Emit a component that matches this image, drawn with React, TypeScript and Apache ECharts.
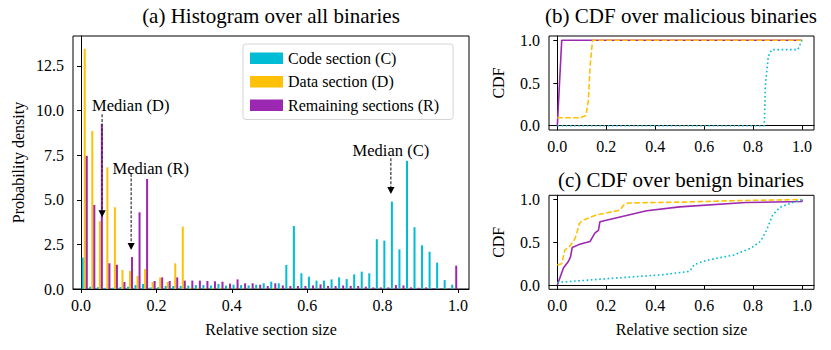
import React, { useEffect, useRef } from 'react';
import * as echarts from 'echarts';

// ---------- data ----------
const BIN_WIDTH = 0.02;
const seriesNames = ['Code section (C)', 'Data section (D)', 'Remaining sections (R)'];
const colors = ['#00BCD4', '#FFC107', '#9C27B0'];

// probability density per bin (50 bins of width 0.02)
const codeDensity = [
  1.76, 0.13, 0.1, 0.07, 0.07, 0.11, 0.13, 0.22, 0.28, 0.09,
  0.1, 0.17, 0.17, 0.17, 0.19, 0.22, 0.22, 0.19, 0.28, 0.19,
  0.24, 0.22, 0.2, 0.24, 0.32, 0.41, 0.32, 1.35, 3.53, 0.88,
  0.69, 0.47, 0.47, 0.54, 0.65, 0.56, 0.82, 0.97, 0.88, 2.79,
  2.71, 4.9, 2.22, 7.18, 3.46, 2.45, 2.09, 1.48, 0.5, 0.24,
];
const dataDensity = [
  13.46, 8.86, 3.8, 6.82, 4.58, 1.07, 1.01, 0.73, 1.12, 0.39,
  0.65, 0.39, 1.44, 3.5, 0.07, 0.06, 0.05, 0.05, 0.05, 0.04,
  0.04, 0.03, 0.03, 0.03, 0.03, 0.05, 0.02, 0.02, 0.02, 0.01,
  0.01, 0.01, 0.01, 0.01, 0.01, 0.01, 0.01, 0.01, 0.01, 0.01,
  0.01, 0.01, 0.01, 0.01, 0.01, 0.01, 0.01, 0.01, 0.01, 0.01,
];
const restDensity = [
  7.46, 4.71, 9.25, 1.44, 1.36, 0.39, 1.79, 4.3, 6.17, 0.45,
  0.65, 0.45, 0.65, 0.47, 0.47, 0.47, 0.45, 0.43, 0.41, 0.3,
  0.54, 0.32, 0.32, 0.24, 0.17, 0.32, 0.2, 0.17, 0.17, 0.17,
  0.2, 0.26, 0.17, 0.17, 0.2, 0.17, 0.17, 0.13, 0.09, 0.09,
  0.09, 0.22, 0.2, 0.09, 0.07, 0.09, 0.05, 0.03, 0.02, 1.31,
];
const binStarts = codeDensity.map((_, i) => +(i * BIN_WIDTH).toFixed(2));

// median annotations: [arrowX, tailY, tipY, textX, textY]
const medianLabels = ['Median (D)', 'Median (R)', 'Median (C)'];
const medianArrows = [
  [0.056, 9.79, 4.02, 0.132, 10.26],
  [0.133, 6.45, 2.19, 0.185, 6.77],
  [0.822, 7.33, 5.32, 0.822, 7.75],
];

const histTicksX = [0, 0.2, 0.4, 0.6, 0.8, 1.0];
const histTicksY = [0, 2.5, 5, 7.5, 10, 12.5];
const cdfTicksY = [0, 0.5, 1.0];

// CDF over malicious binaries: [x, cdf]
const malCode = [[0, 0], [0.846, 0], [0.85, 0.46], [0.862, 0.81], [0.876, 0.89], [0.983, 0.89], [1.0, 1.0]];
const malData = [[0, 0.093], [0.093, 0.093], [0.117, 0.12], [0.127, 0.3], [0.134, 0.7], [0.144, 1.0], [1.0, 1.0]];
const malRest = [[0, 0], [0.018, 1.0], [1.0, 1.0]];

// CDF over benign binaries
const benCode = [
  [0, 0.03], [0.23, 0.08], [0.43, 0.12], [0.54, 0.16], [0.56, 0.24], [0.61, 0.29],
  [0.72, 0.35], [0.79, 0.43], [0.83, 0.51], [0.855, 0.64], [0.88, 0.82], [0.91, 0.91],
  [0.965, 0.97], [1.0, 1.0],
];
const benData = [
  [0, 0.236], [0.018, 0.25], [0.031, 0.41], [0.052, 0.457], [0.07, 0.53], [0.079, 0.6],
  [0.09, 0.72], [0.106, 0.76], [0.16, 0.82], [0.256, 0.876], [0.27, 0.934], [0.29, 0.96],
  [0.5, 0.97], [0.77, 0.99], [1.0, 1.0],
];
const benRest = [
  [0, 0], [0.025, 0.2], [0.045, 0.275], [0.054, 0.33], [0.061, 0.44], [0.086, 0.47],
  [0.106, 0.49], [0.134, 0.51], [0.154, 0.61], [0.168, 0.64], [0.174, 0.74], [0.365, 0.87],
  [0.5, 0.915], [0.77, 0.965], [1.0, 0.977], [1.0, 1.0],
];

// ---------- styling ----------
const FONT = 'Liberation Serif';
const TICK_FS = 16;
const TITLE_FS = 21;

const fmt1 = (v: number) => v.toFixed(1);
const txtStyle = { color: '#000', fontSize: TICK_FS, fontFamily: FONT };

function histSeries(name: string, values: number[], color: string, slot: number) {
  return {
    type: 'custom',
    name,
    xAxisIndex: 0,
    yAxisIndex: 0,
    itemStyle: { color },
    encode: { x: 0, y: 1 },
    data: values.map((v, i) => [binStarts[i], v]),
    renderItem: (_p: any, api: any) => {
      const start = api.value(0) as number;
      const v = api.value(1) as number;
      const barW = (BIN_WIDTH * 0.8) / 3;
      const x0 = start + BIN_WIDTH * 0.1 + slot * barW;
      const p0 = api.coord([x0, 0]);
      const p1 = api.coord([x0 + barW, v]);
      return {
        type: 'rect',
        shape: { x: p0[0], y: p1[1], width: p1[0] - p0[0], height: p0[1] - p1[1] },
        style: { fill: color },
      };
    },
  };
}

function cdfSeries(name: string, data: number[][], color: string, dash: any, gi: number) {
  return {
    type: 'line',
    name,
    xAxisIndex: gi,
    yAxisIndex: gi,
    data,
    symbol: 'none',
    lineStyle: { color, width: 1.6, type: dash },
    z: 3,
  };
}

function cdfXAxis(gi: number, showName: boolean) {
  return {
    type: 'value',
    gridIndex: gi,
    min: -0.034,
    max: 1.049,
    axisLine: { show: true, lineStyle: { color: '#000', width: 1 } },
    axisTick: { show: true, length: 4, customValues: histTicksX, lineStyle: { color: '#000' } },
    axisLabel: { customValues: histTicksX, formatter: fmt1, ...txtStyle, margin: 8 },
    splitLine: { show: false },
    name: showName ? 'Relative section size' : '',
    nameLocation: 'middle',
    nameGap: 32,
    nameTextStyle: txtStyle,
  };
}

function cdfYAxis(gi: number) {
  return {
    type: 'value',
    gridIndex: gi,
    min: -0.05,
    max: 1.05,
    axisLine: { show: true, lineStyle: { color: '#000', width: 1 } },
    axisTick: { show: true, length: 4, customValues: cdfTicksY, lineStyle: { color: '#000' } },
    axisLabel: { customValues: cdfTicksY, formatter: fmt1, ...txtStyle, margin: 9 },
    splitLine: { show: false },
    name: 'CDF',
    nameLocation: 'middle',
    nameGap: 43,
    nameRotate: 90,
    nameTextStyle: txtStyle,
  };
}

const titleText = (text: string, x: number, y: number) => ({
  type: 'text',
  style: {
    text,
    x,
    y,
    align: 'center',
    verticalAlign: 'middle',
    font: `${TITLE_FS}px "${FONT}"`,
    fill: '#000',
  },
});

export default function App() {
  const ref = useRef<HTMLDivElement>(null);
  useEffect(() => {
    document.body.style.margin = '0';
    const chart = echarts.init(ref.current!, null, { renderer: 'svg' });
    const option: any = {
      animation: false,
      backgroundColor: '#fff',
      textStyle: { fontFamily: FONT, fontSize: TICK_FS },
      graphic: [
        titleText('(a) Histogram over all binaries', 271, 16),
        titleText('(b) CDF over malicious binaries', 681, 16),
        titleText('(c) CDF over benign binaries', 681, 180),
      ],
      legend: {
        data: seriesNames,
        orient: 'vertical',
        left: 243,
        top: 44,
        padding: [6, 14, 6, 7],
        itemWidth: 33,
        itemHeight: 11.5,
        itemGap: 7,
        itemTextGap: 13,
        icon: 'rect',
        borderColor: '#d5d5d5',
        borderWidth: 1,
        borderRadius: 3,
        backgroundColor: 'rgba(255,255,255,0.85)',
        textStyle: { ...txtStyle, lineHeight: 16.5 },
        z: 10,
      },
      grid: [
        { left: 73, top: 36, width: 396, height: 253, show: true, borderColor: '#000', borderWidth: 1, backgroundColor: 'transparent' },
        { left: 549, top: 36, width: 265, height: 94, show: true, borderColor: '#000', borderWidth: 1, backgroundColor: 'transparent' },
        { left: 549, top: 195.3, width: 265, height: 94, show: true, borderColor: '#000', borderWidth: 1, backgroundColor: 'transparent' },
      ],
      xAxis: [
        {
          type: 'value',
          gridIndex: 0,
          min: -0.0212,
          max: 1.0292,
          axisLine: { show: true, lineStyle: { color: '#000', width: 1 } },
          axisTick: { show: true, length: 4, customValues: histTicksX, lineStyle: { color: '#000' } },
          axisLabel: { customValues: histTicksX, formatter: fmt1, ...txtStyle, margin: 8 },
          splitLine: { show: false },
          name: 'Relative section size',
          nameLocation: 'middle',
          nameGap: 32,
          nameTextStyle: txtStyle,
        },
        cdfXAxis(1, false),
        cdfXAxis(2, true),
      ],
      yAxis: [
        {
          type: 'value',
          gridIndex: 0,
          min: 0,
          max: 14.18,
          axisLine: { show: true, lineStyle: { color: '#000', width: 1 } },
          axisTick: { show: true, length: 4, customValues: histTicksY, lineStyle: { color: '#000' } },
          axisLabel: { customValues: histTicksY, formatter: fmt1, ...txtStyle, margin: 9 },
          splitLine: { show: false },
          name: 'Probability density',
          nameLocation: 'middle',
          nameGap: 47,
          nameRotate: 90,
          nameTextStyle: txtStyle,
        },
        cdfYAxis(1),
        cdfYAxis(2),
      ],
      series: [
        histSeries(seriesNames[0], codeDensity, colors[0], 0),
        histSeries(seriesNames[1], dataDensity, colors[1], 1),
        histSeries(seriesNames[2], restDensity, colors[2], 2),
        {
          type: 'custom',
          name: 'medians',
          xAxisIndex: 0,
          yAxisIndex: 0,
          z: 5,
          data: medianArrows,
          encode: { x: 0, y: 1 },
          renderItem: (params: any, api: any) => {
            const ax = api.value(0);
            const tail = api.coord([ax, api.value(1)]);
            const tip = api.coord([ax, api.value(2)]);
            const txt = api.coord([api.value(3), api.value(4)]);
            const head = 7;
            return {
              type: 'group',
              children: [
                {
                  type: 'line',
                  shape: { x1: tail[0], y1: tail[1], x2: tip[0], y2: tip[1] - head },
                  style: { stroke: '#222', lineWidth: 1.1, lineDash: [3, 1.6] },
                },
                {
                  type: 'polygon',
                  shape: { points: [[tip[0] - 3.6, tip[1] - head], [tip[0] + 3.6, tip[1] - head], [tip[0], tip[1]]] },
                  style: { fill: '#000' },
                },
                {
                  type: 'text',
                  style: {
                    text: medianLabels[params.dataIndex],
                    x: txt[0],
                    y: txt[1],
                    align: 'center',
                    verticalAlign: 'middle',
                    font: `16.5px "${FONT}"`,
                    fill: '#000',
                  },
                },
              ],
            };
          },
        },
        cdfSeries('mal R', malRest, colors[2], 'solid', 1),
        cdfSeries('mal D', malData, colors[1], [5.5, 2.4], 1),
        cdfSeries('mal C', malCode, colors[0], [1.6, 2.6], 1),
        cdfSeries('ben R', benRest, colors[2], 'solid', 2),
        cdfSeries('ben D', benData, colors[1], [5.5, 2.4], 2),
        cdfSeries('ben C', benCode, colors[0], [1.6, 2.6], 2),
      ],
    };
    chart.setOption(option);
    return () => chart.dispose();
  }, []);
  return <div ref={ref} style={{ width: 831, height: 350 }} />;
}
